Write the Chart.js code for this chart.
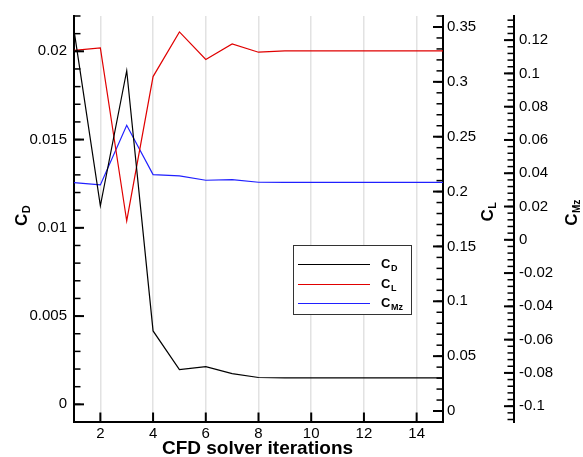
<!DOCTYPE html>
<html>
<head>
<meta charset="utf-8">
<script src="https://cdn.jsdelivr.net/npm/chart.js@4.4.0/dist/chart.umd.min.js"></script>
<style>
html, body { margin: 0; padding: 0; background: #fff; }
</style>
</head>
<body>
<canvas id="myChart" width="583" height="457"></canvas>
<script>
// iterations on the x axis
const iterations = [1, 2, 3, 4, 5, 6, 7, 8, 9, 10, 11, 12, 13, 14, 15];

// force / moment coefficients per iteration
const cdValues = [0.0212, 0.01125, 0.0189, 0.00416, 0.00197, 0.00214, 0.00174, 0.00152, 0.0015, 0.0015, 0.0015, 0.0015, 0.0015, 0.0015, 0.0015];
const clValues = [0.3286, 0.331, 0.1732, 0.3048, 0.3455, 0.3204, 0.3346, 0.327, 0.3283, 0.3283, 0.3283, 0.3283, 0.3283, 0.3283, 0.3283];
const cmzValues = [0.0344, 0.033, 0.0688, 0.0392, 0.0384, 0.0358, 0.0362, 0.0346, 0.0345, 0.0345, 0.0345, 0.0345, 0.0345, 0.0345, 0.0345];

// tick labels
const xTicks = [2, 4, 6, 8, 10, 12, 14];
const cdTicks = [0, 0.005, 0.01, 0.015, 0.02];
const clTicks = [0, 0.05, 0.1, 0.15, 0.2, 0.25, 0.3, 0.35];
const cmzTicks = [-0.1, -0.08, -0.06, -0.04, -0.02, 0, 0.02, 0.04, 0.06, 0.08, 0.1, 0.12];

const colors = { cd: '#000000', cl: '#e00000', cmz: '#2020ff' };
const tickFont = { family: 'Liberation Sans', size: 15 };
const fmt = v => String(+Number(v).toFixed(4));

const toPoints = vals => iterations.map((x, i) => ({ x: x, y: vals[i] }));

function setTicks(list) {
    return scale => { scale.ticks = list.map(v => ({ value: v })); };
}

function drawLine(ctx, x1, y1, x2, y2) {
    ctx.beginPath();
    ctx.moveTo(x1, y1);
    ctx.lineTo(x2, y2);
    ctx.stroke();
}

// inward tick marks on a vertical axis
function yTickMarks(ctx, scale, x, dir, major, minorStep) {
    ctx.strokeStyle = '#000';
    ctx.lineWidth = 1.5;
    const k0 = Math.ceil(scale.min / minorStep - 1e-6);
    const k1 = Math.floor(scale.max / minorStep + 1e-6);
    for (let k = k0; k <= k1; k++) {
        const py = scale.getPixelForValue(k * minorStep);
        drawLine(ctx, x, py, x + dir * 6.5, py);
    }
    ctx.lineWidth = 2;
    major.forEach(v => {
        const py = scale.getPixelForValue(v);
        drawLine(ctx, x, py, x + dir * 10, py);
    });
}

// "C" with a subscript, optionally rotated
function subLabel(ctx, main, sub, cx, cy, size, subSize, rotate, align) {
    ctx.save();
    ctx.translate(cx, cy);
    if (rotate) ctx.rotate(-Math.PI / 2);
    ctx.fillStyle = '#000';
    ctx.textBaseline = 'middle';
    ctx.textAlign = 'left';
    ctx.font = 'bold ' + size + 'px "Liberation Sans"';
    const w1 = ctx.measureText(main).width;
    ctx.font = 'bold ' + subSize + 'px "Liberation Sans"';
    const w2 = ctx.measureText(sub).width;
    const x0 = align === 'left' ? 0 : -(w1 + w2) / 2;
    ctx.font = 'bold ' + size + 'px "Liberation Sans"';
    ctx.fillText(main, x0, 0);
    ctx.font = 'bold ' + subSize + 'px "Liberation Sans"';
    ctx.fillText(sub, x0 + w1 + 0.5, size * 0.3);
    ctx.restore();
}

const decor = {
    id: 'decor',
    afterDraw(chart) {
        const ctx = chart.ctx;
        const area = chart.chartArea;
        const s = chart.scales;
        ctx.save();
        yTickMarks(ctx, s.yCD, area.left, 1, cdTicks, 0.001);
        yTickMarks(ctx, s.yCL, area.right, -1, clTicks, 0.01);
        yTickMarks(ctx, s.yMz, s.yMz.left, -1, cmzTicks, 0.004);
        ctx.lineWidth = 2;
        xTicks.forEach(v => {
            const px = s.x.getPixelForValue(v);
            drawLine(ctx, px, area.bottom, px, area.bottom - 9.5);
        });

        // axis titles
        subLabel(ctx, 'C', 'D', 22, 216, 17, 11, true);
        subLabel(ctx, 'C', 'L', 488, 212, 17, 11, true);
        subLabel(ctx, 'C', 'Mz', 572, 213, 17, 10, true);
        ctx.fillStyle = '#000';
        ctx.font = 'bold 19px "Liberation Sans"';
        ctx.textAlign = 'center';
        ctx.textBaseline = 'middle';
        ctx.fillText('CFD solver iterations', 257.5, 449);

        // legend
        ctx.fillStyle = '#fff';
        ctx.fillRect(293, 245, 119, 70);
        ctx.lineWidth = 1;
        ctx.strokeStyle = '#333';
        ctx.strokeRect(293.5, 245.5, 118, 69);
        const rows = [['D', colors.cd, 264.5], ['L', colors.cl, 284.5], ['Mz', colors.cmz, 303.5]];
        rows.forEach(r => {
            ctx.save();
            ctx.strokeStyle = r[1];
            ctx.lineWidth = 1.2;
            drawLine(ctx, 298, r[2], 370, r[2]);
            ctx.restore();
            subLabel(ctx, 'C', r[0], 381, r[2], 13, 9, false, 'left');
        });
        ctx.restore();
    }
};

const ctx = document.getElementById('myChart').getContext('2d');
const chart = new Chart(ctx, {
    type: 'line',
    data: {
        datasets: [
            { label: 'CD', data: toPoints(cdValues), yAxisID: 'yCD', borderColor: colors.cd, borderWidth: 1.2 },
            { label: 'CL', data: toPoints(clValues), yAxisID: 'yCL', borderColor: colors.cl, borderWidth: 1.2 },
            { label: 'CMz', data: toPoints(cmzValues), yAxisID: 'yMz', borderColor: colors.cmz, borderWidth: 1.2 }
        ]
    },
    options: {
        responsive: false,
        animation: false,
        devicePixelRatio: 1,
        layout: { padding: { top: 13, left: 0, right: 0, bottom: 0 } },
        elements: { point: { radius: 0 }, line: { tension: 0 } },
        plugins: { legend: { display: false }, tooltip: { enabled: false } },
        scales: {
            x: {
                type: 'linear', position: 'bottom', min: 1, max: 15,
                afterBuildTicks: setTicks(xTicks),
                afterFit: s => { s.height = 35; },
                ticks: { font: tickFont, color: '#000', padding: 3, maxRotation: 0, callback: fmt },
                grid: { color: '#e2e2e2', lineWidth: 1.5, drawTicks: false },
                border: { display: true, color: '#000', width: 2 }
            },
            yCD: {
                type: 'linear', position: 'left', min: -0.001, max: 0.022,
                afterBuildTicks: setTicks(cdTicks),
                afterFit: s => { s.width = 74; },
                ticks: { font: tickFont, color: '#000', padding: 7, callback: fmt },
                grid: { display: false, drawTicks: false },
                border: { display: true, color: '#000', width: 2 }
            },
            yCL: {
                type: 'linear', position: 'right', weight: 1, min: -0.01, max: 0.36,
                afterBuildTicks: setTicks(clTicks),
                afterFit: s => { s.width = 71; },
                ticks: { font: tickFont, color: '#000', padding: 4, callback: fmt },
                grid: { display: false, drawTicks: false },
                border: { display: true, color: '#000', width: 2 }
            },
            yMz: {
                type: 'linear', position: 'right', weight: 2, min: -0.1095, max: 0.1345,
                afterBuildTicks: setTicks(cmzTicks),
                afterFit: s => { s.width = 69; },
                ticks: { font: tickFont, color: '#000', padding: 5, callback: fmt },
                grid: { display: false, drawTicks: false },
                border: { display: true, color: '#000', width: 2 }
            }
        }
    },
    plugins: [decor]
});
</script>
</body>
</html>
